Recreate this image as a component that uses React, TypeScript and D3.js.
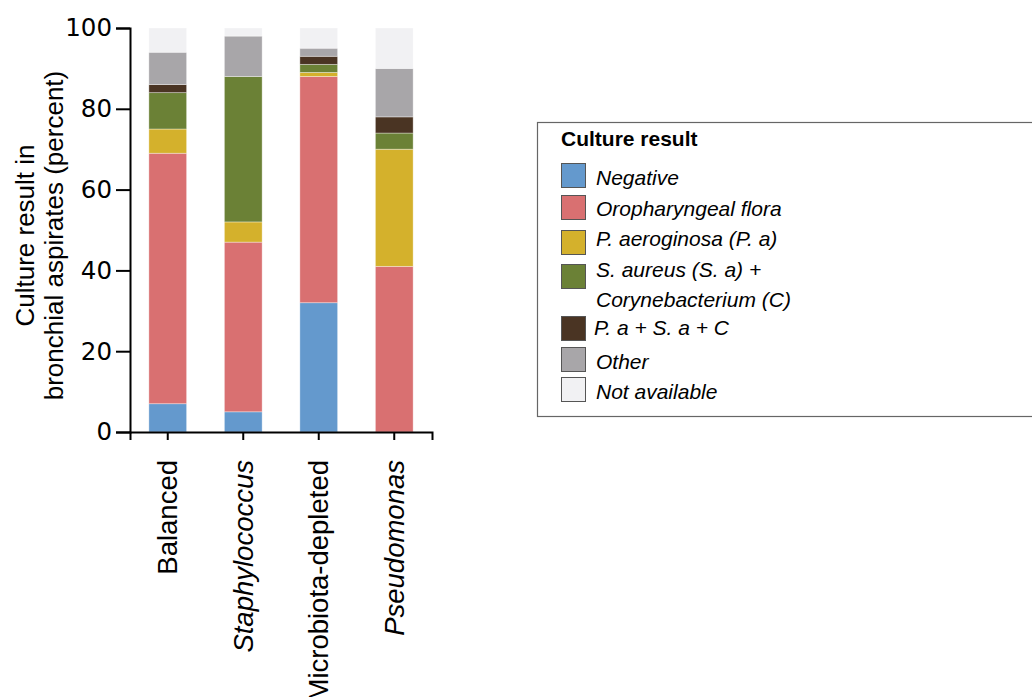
import { useEffect, useRef } from "react";
import * as d3 from "d3";

const groups = ["Balanced", "Staphylococcus", "Microbiota-depleted", "Pseudomonas"];
const italicGroups = ["Staphylococcus", "Pseudomonas"];

const categories = [
  "Negative",
  "Oropharyngeal flora",
  "P. aeroginosa (P. a)",
  "S. aureus (S. a) + Corynebacterium (C)",
  "P. a + S. a + C",
  "Other",
  "Not available",
];
const colors = ["#6499cd", "#d97071", "#d4b12c", "#6b8136", "#4a3423", "#a8a6a9", "#f1f1f3"];

// percent per category, one row per group
const negative = [7, 5, 32, 0];
const oropharyngeal = [62, 42, 56, 41];
const aeruginosa = [6, 5, 1, 29];
const aureusCoryne = [9, 36, 2, 4];
const allThree = [2, 0, 2, 4];
const other = [8, 10, 2, 12];
const notAvailable = [6, 2, 5, 10];

const yTicks = [0, 20, 40, 60, 80, 100];

export default function App() {
  const ref = useRef<SVGSVGElement>(null);

  useEffect(() => {
    document.body.style.margin = "0";
    const el = ref.current;
    if (!el) return;
    const W = 1032;
    const H = 697;
    const M = { top: 28, left: 130, bottom: 432, right: 432 };
    const sans = "Liberation Sans, Arial, sans-serif";

    const svg = d3.select(el);
    svg.selectAll("*").remove();

    const series = [negative, oropharyngeal, aeruginosa, aureusCoryne, allThree, other, notAvailable];
    const rows = groups.map((g, i) => {
      const r: any = { group: g };
      categories.forEach((c, k) => (r[c] = series[k][i]));
      return r;
    });
    const stacked = d3.stack<any>().keys(categories)(rows);

    const x = d3.scaleBand().domain(groups).range([M.left, M.right]).paddingInner(0.5).paddingOuter(0.25);
    const y = d3.scaleLinear().domain([0, 100]).range([M.bottom, M.top]);
    const color = d3.scaleOrdinal<string, string>().domain(categories).range(colors);

    // bars
    svg.append("g")
      .selectAll("g")
      .data(stacked)
      .join("g")
      .attr("fill", (d) => color(d.key))
      .selectAll("rect")
      .data((d) => d)
      .join("rect")
      .attr("x", (d: any) => x(d.data.group)!)
      .attr("width", x.bandwidth())
      .attr("y", (d) => y(d[1]))
      .attr("height", (d) => y(d[0]) - y(d[1]))
      .attr("stroke", "#ffffff")
      .attr("stroke-opacity", 0.45)
      .attr("stroke-width", 0.8);

    // y axis
    svg.append("g")
      .attr("transform", `translate(${M.left},0)`)
      .call(d3.axisLeft(y).tickValues(yTicks).tickSize(14).tickPadding(4))
      .call((g) => g.select(".domain").attr("stroke", "#000").attr("stroke-width", 2))
      .call((g) => g.selectAll(".tick line").attr("stroke", "#000").attr("stroke-width", 2))
      .call((g) => g.selectAll(".tick text")
        .attr("fill", "#000")
        .style("font-family", "DejaVu Sans")
        .style("font-size", "24.5px"));

    // x axis
    svg.append("g")
      .attr("transform", `translate(0,${M.bottom})`)
      .call(d3.axisBottom(x).tickSize(8).tickFormat(() => ""))
      .call((g) => g.select(".domain").attr("stroke", "#000").attr("stroke-width", 2))
      .call((g) => g.selectAll(".tick line").attr("stroke", "#000").attr("stroke-width", 2));

    svg.append("g")
      .selectAll("text")
      .data(groups)
      .join("text")
      .attr("transform", (d) => `translate(${x(d)! + x.bandwidth() / 2},460) rotate(-90)`)
      .attr("dy", "0.35em")
      .attr("text-anchor", "end")
      .style("font-family", sans)
      .style("font-size", "27.5px")
      .style("font-style", (d) => (italicGroups.includes(d) ? "italic" : "normal"))
      .text((d) => d);

    // y label
    const yl = svg.append("text")
      .attr("transform", `translate(0,235.5) rotate(-90)`)
      .attr("text-anchor", "middle")
      .style("font-family", sans)
      .style("font-size", "26px");
    yl.append("tspan").attr("x", 0).attr("y", 34).text("Culture result in");
    yl.append("tspan").attr("x", 0).attr("y", 63).text("bronchial aspirates (percent)");

    // legend
    const leg = svg.append("g");
    leg.append("rect")
      .attr("x", 537.5).attr("y", 122.5)
      .attr("width", 520).attr("height", 294)
      .attr("fill", "#fff").attr("stroke", "#666").attr("stroke-width", 1.2);
    leg.append("text")
      .attr("x", 561).attr("y", 146)
      .style("font-family", sans)
      .style("font-size", "21px").style("font-weight", "bold")
      .text("Culture result");

    const swatchY = [163, 195, 230, 264, 316, 347, 377];
    const labelLines = [
      [{ t: "Negative", y: 185 }],
      [{ t: "Oropharyngeal flora", y: 216 }],
      [{ t: "P. aeroginosa (P. a)", y: 246 }],
      [{ t: "S. aureus (S. a) +", y: 277 }, { t: "Corynebacterium (C)", y: 307 }],
      [{ t: "P. a + S. a + C", y: 335 }],
      [{ t: "Other", y: 369 }],
      [{ t: "Not available", y: 399 }],
    ];
    categories.forEach((c, i) => {
      leg.append("rect")
        .attr("x", 561.5).attr("y", swatchY[i] + 0.5)
        .attr("width", 24).attr("height", 24)
        .attr("fill", color(c)).attr("stroke", "#555").attr("stroke-width", 1);
      labelLines[i].forEach((ln) => {
        leg.append("text")
          .attr("x", i === 4 ? 594 : 596).attr("y", ln.y)
          .style("font-family", sans)
          .style("font-size", "21px").style("font-style", "italic")
          .text(ln.t);
      });
    });

    svg.attr("width", W).attr("height", H);
  }, []);

  return <svg ref={ref} width={1032} height={697} style={{ display: "block" }} />;
}
